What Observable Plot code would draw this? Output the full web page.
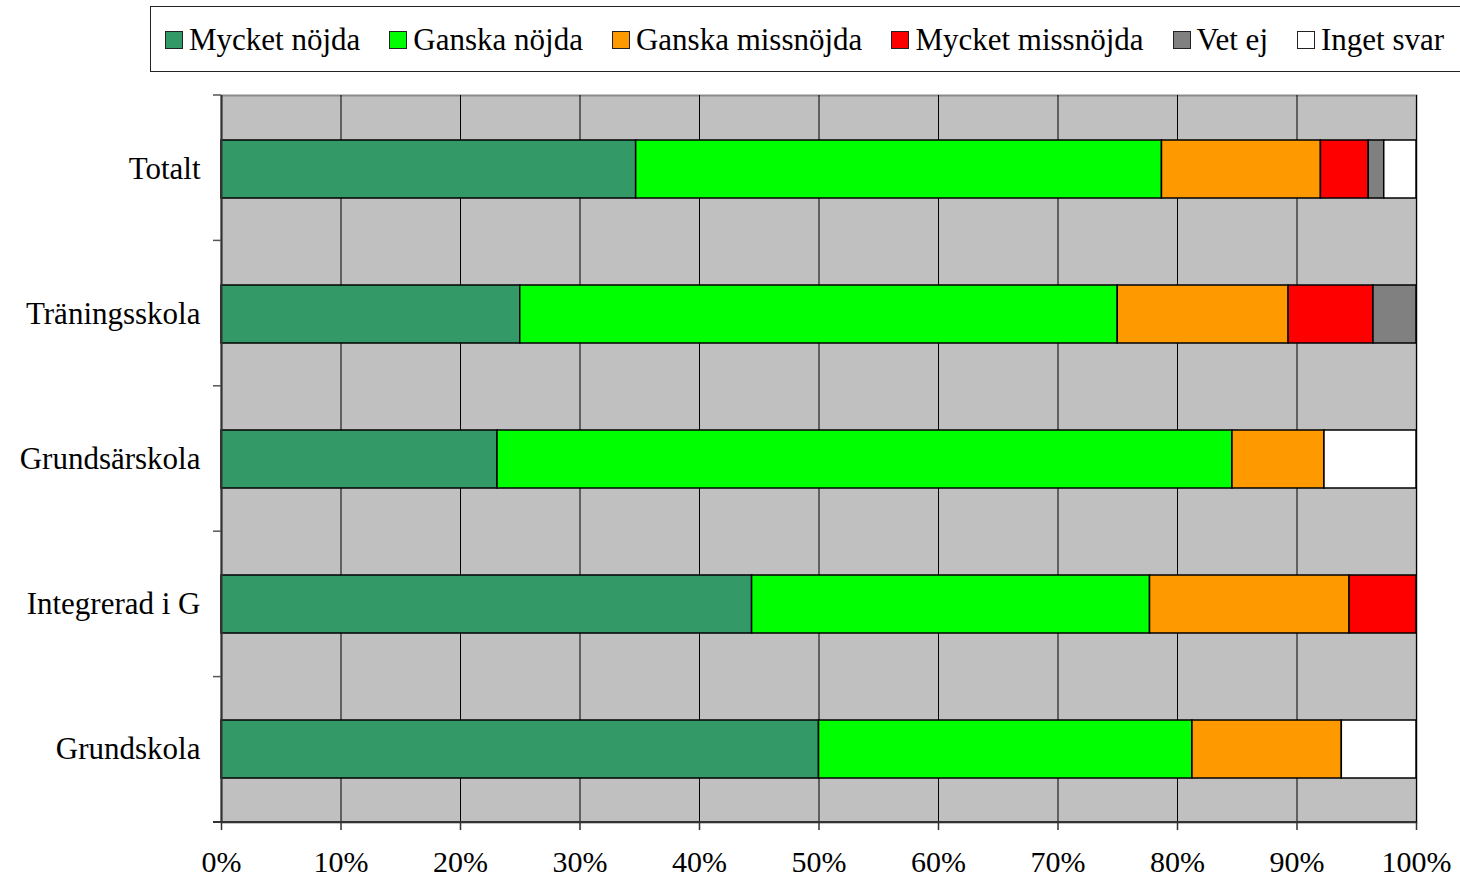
<!DOCTYPE html>
<html>
<head>
<meta charset="utf-8">
<script src="https://cdn.jsdelivr.net/npm/d3@7"></script>
<script src="https://cdn.jsdelivr.net/npm/@observablehq/plot@0.6"></script>
<style>
  html, body { margin: 0; padding: 0; background: #fff; }
  #wrap { position: relative; width: 1460px; height: 876px; font-family: "Liberation Serif", serif; }
  #legend { position: absolute; left: 150px; top: 6px; width: 1330px; height: 66px; border: 1px solid #222; box-sizing: border-box;
            display: flex; align-items: center; padding-left: 14px; padding-top: 2px; gap: 29px; font-size: 31px; color: #000; background: #fff; }
  .item { display: flex; align-items: center; gap: 6px; white-space: nowrap; }
  .sw { width: 16px; height: 16px; border: 1.5px solid #222; box-sizing: content-box; }
  svg { position: absolute; left: 0; top: 0; }
</style>
</head>
<body>
<div id="wrap"><div id="legend"></div></div>
<script>
const categories = ["Totalt", "Träningsskola", "Grundsärskola", "Integrerad i G", "Grundskola"];
const series = ["Mycket nöjda", "Ganska nöjda", "Ganska missnöjda", "Mycket missnöjda", "Vet ej", "Inget svar"];
const colors = ["#339966", "#00ff00", "#ff9900", "#ff0000", "#808080", "#ffffff"];
const mycketNojda     = [34.7, 25.0, 23.1, 44.4, 50.0];
const ganskaNojda     = [44.0, 50.0, 61.5, 33.3, 31.25];
const ganskaMissnojda = [13.3, 14.3, 7.7, 16.7, 12.5];
const mycketMissnojda = [4.0, 7.1, 0, 5.6, 0];
const vetEj           = [1.3, 3.6, 0, 0, 0];
const ingetSvar       = [2.7, 0, 7.7, 0, 6.25];
const xTicks = [0, 10, 20, 30, 40, 50, 60, 70, 80, 90, 100];

const valuesBySeries = [mycketNojda, ganskaNojda, ganskaMissnojda, mycketMissnojda, vetEj, ingetSvar];
const data = [];
categories.forEach((c, i) => {
  series.forEach((s, j) => {
    const v = valuesBySeries[j][i];
    if (v > 0) data.push({category: c, series: s, value: v});
  });
});

// legend
const legend = document.getElementById("legend");
series.forEach((s, j) => {
  const it = document.createElement("div");
  it.className = "item";
  const sw = document.createElement("div");
  sw.className = "sw";
  sw.style.background = colors[j];
  const t = document.createElement("span");
  t.textContent = s;
  it.appendChild(sw); it.appendChild(t);
  legend.appendChild(it);
});

const serif = "'Liberation Serif', serif";
const chart = Plot.plot({
  width: 1460,
  height: 876,
  marginLeft: 221,
  marginRight: 44,
  marginTop: 95,
  marginBottom: 54,
  style: {fontFamily: serif, fontSize: "31px", color: "#000", background: "transparent", overflow: "visible"},
  x: {domain: [0, 100], ticks: xTicks, tickFormat: d => d + "%", label: null},
  y: {domain: categories, paddingInner: 0.6, paddingOuter: 0.3, label: null},
  color: {domain: series, range: colors},
  marks: [
    Plot.frame({fill: "#c0c0c0", stroke: "#8a8a8a", strokeWidth: 2}),
    Plot.gridX(xTicks, {stroke: "#000", strokeOpacity: 1, strokeWidth: 1}),
    Plot.barX(data, Plot.stackX({x: "value", y: "category", fill: "series", stroke: "#000", strokeWidth: 1.5})),
    Plot.ruleX([0], {stroke: "#333", strokeWidth: 2}),
    Plot.axisX(xTicks, {tickSize: 8, tickPadding: 20, tickFormat: d => d + "%", stroke: "#333", strokeWidth: 1.5,
                        fontSize: 30, fontFamily: serif, fill: "#000"}),
    Plot.axisY({tickSize: 0, tickPadding: 21, fontSize: 31, fontFamily: serif, fill: "#000"})
  ]
});

document.getElementById("wrap").appendChild(chart);

// Excel-style axis details derived from the scales
const ys = chart.scale("y");
const xs = chart.scale("x");
const svg = d3.select(chart);
const [y0, y1] = ys.range;
const x0 = xs.range[0], x1 = xs.range[1];
const n = categories.length;
for (let k = 0; k <= n; k++) {
  const yy = y0 + k * (y1 - y0) / n;
  svg.append("line").attr("x1", x0 - 8).attr("x2", x0).attr("y1", yy).attr("y2", yy)
    .attr("stroke", "#555").attr("stroke-width", 1.5);
}
svg.append("line").attr("x1", x0 - 8).attr("x2", x1).attr("y1", y1).attr("y2", y1)
  .attr("stroke", "#333").attr("stroke-width", 2);
</script>
</body>
</html>
